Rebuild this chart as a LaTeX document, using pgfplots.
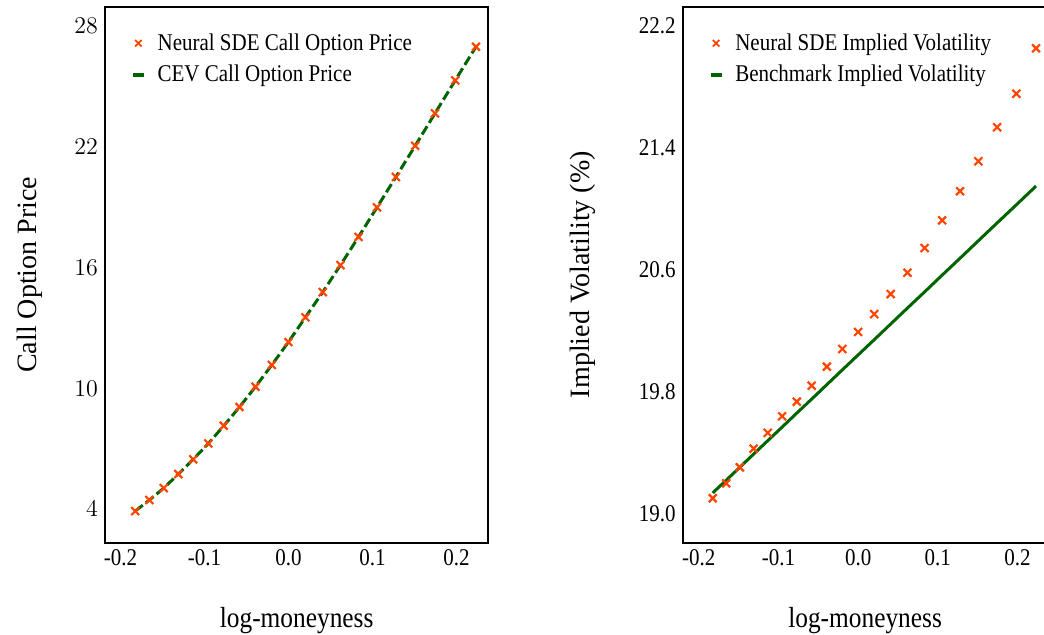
\documentclass[border=0pt]{standalone}
\usepackage{fontspec}
\setmainfont{Liberation Serif}[FakeStretch=0.875]
\newfontfamily\ylabfont{Liberation Serif}
\usepackage{pgfplots}
\pgfplotsset{compat=1.18}
\definecolor{sdered}{HTML}{FF4500}
\definecolor{cevgreen}{HTML}{006400}

% log-moneyness, neural SDE price, CEV price
\pgfplotstableread{
lm ncall cev
-0.18232 3.90 3.90
-0.16551 4.45 4.45
-0.14842 5.04 5.04
-0.13103 5.74 5.74
-0.11333 6.47 6.47
-0.09531 7.26 7.26
-0.07696 8.14 8.14
-0.05827 9.07 9.07
-0.03922 10.08 10.08
-0.01980 11.16 11.16
0.00000 12.30 12.30
0.02020 13.53 13.53
0.04082 14.78 14.78
0.06188 16.12 16.12
0.08338 17.52 17.52
0.10536 18.99 18.99
0.12783 20.50 20.50
0.15082 22.05 22.05
0.17435 23.66 23.66
0.19845 25.30 25.30
0.22314 26.97 26.97
}\pricetab

% log-moneyness, neural SDE IV, benchmark IV
\pgfplotstableread{
lm niv biv
-0.18232 19.099 19.134
-0.16551 19.197 19.217
-0.14842 19.302 19.302
-0.13103 19.425 19.389
-0.11333 19.528 19.477
-0.09531 19.637 19.566
-0.07696 19.733 19.658
-0.05827 19.838 19.750
-0.03922 19.963 19.845
-0.01980 20.079 19.942
0.00000 20.191 20.040
0.02020 20.308 20.140
0.04082 20.440 20.243
0.06188 20.580 20.348
0.08338 20.742 20.454
0.10536 20.924 20.564
0.12783 21.115 20.675
0.15082 21.312 20.790
0.17435 21.535 20.907
0.19845 21.755 21.026
0.22314 22.054 21.149
}\ivtab

\pgfplotsset{
  panel/.style={
    scale only axis, height=268pt,
    axis line style={line width=1pt},
    major tick length=0pt, tick style={draw=none},
    ticklabel style={font=\fontsize{12}{14}\selectfont},
    xtick={-0.2,-0.1,0,0.1,0.2},
    xticklabel style={/pgf/number format/.cd, fixed, fixed zerofill, precision=1, assume math mode=true},
    xlabel={log-moneyness},
    xlabel style={font=\fontsize{14.5}{16}\selectfont, at={(axis description cs:0.5,-0.146)}, anchor=center},
    ylabel style={font=\ylabfont\fontsize{14}{16}\selectfont, anchor=center},
    legend style={draw=none, fill=none, anchor=north west, at={(axis description cs:0,1)},
      xshift=9.8pt, yshift=-9.2pt,
      font=\fontsize{12}{14}\selectfont, row sep=2pt, cells={anchor=west}},
    legend cell align=left, reverse legend,
  },
  xmk/.style={only marks, mark=x, mark size=2.8pt, mark options={line width=1.1pt}, color=sdered,
    legend image code/.code={\path[draw=none, fill=none] (0pt,0pt) -- (11.3pt,0pt);
      \draw[##1, mark size=2.3pt, mark options={line width=0.9pt}] plot coordinates {(3.7pt,0pt)};}},
  gline/.style={no marks, color=cevgreen, line width=1.5pt,
    legend image code/.code={\path[draw=none, fill=none] (0pt,0pt) -- (11.3pt,0pt);
      \draw[##1, solid, line width=1.7pt] (1pt,0pt) -- (6.4pt,0pt);}},
}

\begin{document}
\begin{tikzpicture}
\begin{axis}[panel, at={(52.5pt,46.15pt)}, anchor=south west, width=191.65pt,
  xmin=-0.2183, xmax=0.2378, ymin=2.33, ymax=28.96,
  ytick={4,10,16,22,28},
  ylabel={Call Option Price},
  ylabel style={at={(axis description cs:-0.1957,0.5)}},
]
\addplot[gline, dash pattern=on 4.8pt off 2pt] table[x=lm, y=cev] {\pricetab};
\addlegendentry{CEV Call Option Price}
\addplot[xmk] table[x=lm, y=ncall] {\pricetab};
\addlegendentry{Neural SDE Call Option Price}
\end{axis}

\begin{axis}[panel, at={(341.35pt,46.15pt)}, anchor=south west, width=182.4pt,
  xmin=-0.2200, xmax=0.2375, ymin=18.807, ymax=22.327,
  ytick={19.0,19.8,20.6,21.4,22.2},
  yticklabel style={/pgf/number format/.cd, fixed, fixed zerofill, precision=1, assume math mode=true},
  ylabel={Implied Volatility (\%)},
  ylabel style={at={(axis description cs:-0.273,0.5)}},
]
\addplot[gline] table[x=lm, y=biv] {\ivtab};
\addlegendentry{Benchmark Implied Volatility}
\addplot[xmk] table[x=lm, y=niv] {\ivtab};
\addlegendentry{Neural SDE Implied Volatility}
\end{axis}
\pgfresetboundingbox
\useasboundingbox (0,0) rectangle (522pt,317.5pt);
\end{tikzpicture}
\end{document}
